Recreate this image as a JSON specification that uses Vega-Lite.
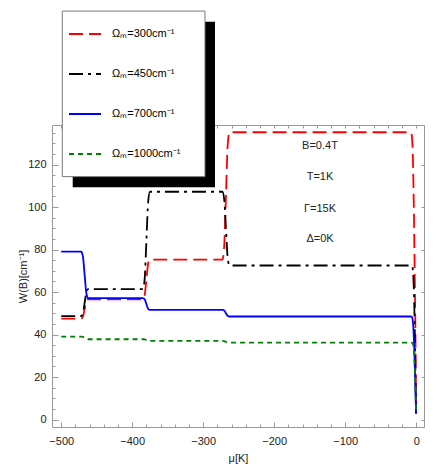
{
  "$schema": "https://vega.github.io/schema/vega-lite/v6.json",
  "autosize": "none",
  "width": 372,
  "height": 302,
  "padding": {"left": 52, "top": 125, "right": 12, "bottom": 44},
  "background": "white",
  "config": {
    "view": {"stroke": null},
    "axis": {
      "grid": false,
      "domainColor": "#999999",
      "tickColor": "#999999",
      "labelFont": "Liberation Sans",
      "labelFontSize": 11,
      "labelColor": "#222222",
      "titleFont": "Liberation Sans",
      "titleFontSize": 11,
      "titleFontWeight": "normal",
      "titleColor": "#222222",
      "zindex": 0
    }
  },
  "data": {
    "values": [
      {"Omega": 300, "mu": -500, "W": 47.5}, {"Omega": 300, "mu": -472, "W": 47.5}, {"Omega": 300, "mu": -469.5, "W": 48.4}, {"Omega": 300, "mu": -467, "W": 52.0}, {"Omega": 300, "mu": -464.5, "W": 55.7}, {"Omega": 300, "mu": -462, "W": 56.6},
      {"Omega": 300, "mu": -385, "W": 56.6}, {"Omega": 300, "mu": -382.5, "W": 58.5}, {"Omega": 300, "mu": -380, "W": 66.0}, {"Omega": 300, "mu": -377.5, "W": 73.4}, {"Omega": 300, "mu": -375, "W": 75.3},
      {"Omega": 300, "mu": -273, "W": 75.3}, {"Omega": 300, "mu": -270.5, "W": 81.3}, {"Omega": 300, "mu": -268, "W": 105.2}, {"Omega": 300, "mu": -265.5, "W": 129.2}, {"Omega": 300, "mu": -263, "W": 135.2},
      {"Omega": 300, "mu": -9, "W": 135.2}, {"Omega": 300, "mu": -7, "W": 134.9}, {"Omega": 300, "mu": -6, "W": 133}, {"Omega": 300, "mu": -5, "W": 127}, {"Omega": 300, "mu": -4, "W": 113}, {"Omega": 300, "mu": -3, "W": 92}, {"Omega": 300, "mu": -2, "W": 66}, {"Omega": 300, "mu": -1, "W": 38}, {"Omega": 300, "mu": -0.2, "W": 2.8},

      {"Omega": 450, "mu": -500, "W": 48.7}, {"Omega": 450, "mu": -472, "W": 48.7}, {"Omega": 450, "mu": -469.5, "W": 50.0}, {"Omega": 450, "mu": -467, "W": 55.0}, {"Omega": 450, "mu": -464.5, "W": 60.1}, {"Omega": 450, "mu": -462, "W": 61.4},
      {"Omega": 450, "mu": -385, "W": 61.4}, {"Omega": 450, "mu": -382.5, "W": 66.0}, {"Omega": 450, "mu": -380, "W": 84.3}, {"Omega": 450, "mu": -377.5, "W": 102.6}, {"Omega": 450, "mu": -375, "W": 107.2},
      {"Omega": 450, "mu": -273, "W": 107.2}, {"Omega": 450, "mu": -270.5, "W": 103.7}, {"Omega": 450, "mu": -268, "W": 89.9}, {"Omega": 450, "mu": -265.5, "W": 76.0}, {"Omega": 450, "mu": -263, "W": 72.5},
      {"Omega": 450, "mu": -8, "W": 72.5}, {"Omega": 450, "mu": -6, "W": 72.3}, {"Omega": 450, "mu": -5, "W": 71.3}, {"Omega": 450, "mu": -4, "W": 67}, {"Omega": 450, "mu": -3, "W": 58}, {"Omega": 450, "mu": -2, "W": 42}, {"Omega": 450, "mu": -1, "W": 22}, {"Omega": 450, "mu": -0.2, "W": 2.8},

      {"Omega": 700, "mu": -500, "W": 79.0}, {"Omega": 700, "mu": -472, "W": 79.0}, {"Omega": 700, "mu": -469.5, "W": 76.8}, {"Omega": 700, "mu": -467, "W": 68.0}, {"Omega": 700, "mu": -464.5, "W": 59.3}, {"Omega": 700, "mu": -462, "W": 57.1},
      {"Omega": 700, "mu": -385, "W": 57.1}, {"Omega": 700, "mu": -382.5, "W": 56.6}, {"Omega": 700, "mu": -380, "W": 54.3}, {"Omega": 700, "mu": -377.5, "W": 52.1}, {"Omega": 700, "mu": -375, "W": 51.6},
      {"Omega": 700, "mu": -273, "W": 51.6}, {"Omega": 700, "mu": -270.5, "W": 51.3}, {"Omega": 700, "mu": -268, "W": 50.0}, {"Omega": 700, "mu": -265.5, "W": 48.8}, {"Omega": 700, "mu": -263, "W": 48.5},
      {"Omega": 700, "mu": -8, "W": 48.5}, {"Omega": 700, "mu": -6, "W": 48.3}, {"Omega": 700, "mu": -5, "W": 47}, {"Omega": 700, "mu": -4, "W": 43}, {"Omega": 700, "mu": -3, "W": 36}, {"Omega": 700, "mu": -2, "W": 26}, {"Omega": 700, "mu": -1, "W": 14}, {"Omega": 700, "mu": -0.2, "W": 2.8},

      {"Omega": 1000, "mu": -500, "W": 39.0}, {"Omega": 1000, "mu": -472, "W": 39.0}, {"Omega": 1000, "mu": -469.5, "W": 38.9}, {"Omega": 1000, "mu": -467, "W": 38.4}, {"Omega": 1000, "mu": -464.5, "W": 37.9}, {"Omega": 1000, "mu": -462, "W": 37.8},
      {"Omega": 1000, "mu": -385, "W": 37.8}, {"Omega": 1000, "mu": -382.5, "W": 37.7}, {"Omega": 1000, "mu": -380, "W": 37.4}, {"Omega": 1000, "mu": -377.5, "W": 37.0}, {"Omega": 1000, "mu": -375, "W": 37.0},
      {"Omega": 1000, "mu": -273, "W": 37.0}, {"Omega": 1000, "mu": -270.5, "W": 36.9}, {"Omega": 1000, "mu": -268, "W": 36.6}, {"Omega": 1000, "mu": -265.5, "W": 36.3}, {"Omega": 1000, "mu": -263, "W": 36.2},
      {"Omega": 1000, "mu": -7, "W": 36.2}, {"Omega": 1000, "mu": -5, "W": 35.9}, {"Omega": 1000, "mu": -4, "W": 34.5}, {"Omega": 1000, "mu": -3, "W": 31}, {"Omega": 1000, "mu": -2, "W": 24}, {"Omega": 1000, "mu": -1, "W": 13}, {"Omega": 1000, "mu": -0.2, "W": 2.8}
    ]
  },
  "resolve": {
    "scale": {"x": "shared", "y": "shared"},
    "axis": {"x": "independent", "y": "independent"}
  },
  "layer": [
    {
      "mark": {"type": "line", "interpolate": "monotone", "strokeWidth": 1.8},
      "encoding": {
        "x": {
          "field": "mu", "type": "quantitative",
          "scale": {"domain": [-513, 11], "nice": false, "zero": false},
          "axis": {"orient": "bottom", "values": [-500, -400, -300, -200, -100, 0], "ticks": false, "domain": true, "labelPadding": 8, "labelFlush": false, "title": "μ[K]", "titlePadding": 6}
        },
        "y": {
          "field": "W", "type": "quantitative",
          "scale": {"domain": [-3.5, 138.6], "nice": false, "zero": false},
          "axis": {"orient": "left", "values": [0, 20, 40, 60, 80, 100, 120], "ticks": false, "domain": true, "labelPadding": 6, "labelFlush": false, "title": "W(B)[cm⁻¹]", "titlePadding": -1}
        },
        "color": {
          "field": "Omega", "type": "nominal",
          "scale": {"domain": [300, 450, 700, 1000], "range": ["#ff0000", "#000000", "#0000ff", "#008000"]},
          "legend": {"orient": "none", "legendX": 16, "legendY": -108, "title": null, "padding": 0, "symbolType": "stroke", "symbolSize": 1024, "symbolStrokeWidth": 1.8, "labelOffset": 10, "labelFont": "Liberation Sans", "labelFontSize": 11, "labelColor": "#000000", "rowPadding": 18, "labelExpr": "'Ωₘ=' + datum.label + 'cm⁻¹'"}
        },
        "strokeDash": {
          "field": "Omega", "type": "nominal",
          "scale": {"domain": [300, 450, 700, 1000], "range": [[14, 6], [14, 5, 3, 5], [1, 0], [5, 4]]},
          "legend": {"orient": "none", "legendX": 16, "legendY": -108, "title": null, "padding": 0, "symbolType": "stroke", "symbolSize": 1024, "symbolStrokeWidth": 1.8, "labelOffset": 10, "labelFont": "Liberation Sans", "labelFontSize": 11, "labelColor": "#000000", "rowPadding": 18, "labelExpr": "'Ωₘ=' + datum.label + 'cm⁻¹'"}
        }
      }
    },
    {
      "mark": {"type": "point", "opacity": 0},
      "encoding": {
        "x": {"field": "mu", "type": "quantitative", "axis": {"orient": "bottom", "values": [-500, -400, -300, -200, -100, 0], "tickSize": -5, "labels": false, "domain": false, "title": null}},
        "y": {"field": "W", "type": "quantitative", "axis": {"orient": "left", "values": [0, 20, 40, 60, 80, 100, 120], "tickSize": -6, "labels": false, "domain": false, "title": null}}
      }
    },
    {
      "mark": {"type": "point", "opacity": 0},
      "encoding": {
        "x": {"field": "mu", "type": "quantitative", "axis": {"orient": "bottom", "values": [-500, -480, -460, -440, -420, -400, -380, -360, -340, -320, -300, -280, -260, -240, -220, -200, -180, -160, -140, -120, -100, -80, -60, -40, -20, 0], "tickSize": -3, "labels": false, "domain": false, "title": null}},
        "y": {"field": "W", "type": "quantitative", "axis": {"orient": "left", "values": [0, 5, 10, 15, 20, 25, 30, 35, 40, 45, 50, 55, 60, 65, 70, 75, 80, 85, 90, 95, 100, 105, 110, 115, 120, 125, 130, 135], "tickSize": -3, "labels": false, "domain": false, "title": null}}
      }
    },
    {
      "mark": {"type": "point", "opacity": 0},
      "encoding": {
        "x": {"field": "mu", "type": "quantitative", "axis": {"orient": "top", "values": [-500, -480, -460, -440, -420, -400, -380, -360, -340, -320, -300, -280, -260, -240, -220, -200, -180, -160, -140, -120, -100, -80, -60, -40, -20, 0], "tickSize": -3, "labels": false, "domain": true, "title": null}},
        "y": {"field": "W", "type": "quantitative", "axis": {"orient": "right", "values": [0, 20, 40, 60, 80, 100, 120], "tickSize": -3, "labels": false, "domain": true, "title": null}}
      }
    },
    {
      "data": {"values": [{}]},
      "mark": {"type": "rect", "fill": "#000000"},
      "encoding": {
        "x": {"datum": -483.8, "type": "quantitative", "axis": null},
        "x2": {"datum": -283.4},
        "y": {"datum": 187.2, "type": "quantitative", "axis": null},
        "y2": {"datum": 109.3}
      }
    },
    {
      "data": {"values": [{}]},
      "mark": {"type": "rect", "fill": "#ffffff", "stroke": "#777777", "strokeWidth": 1},
      "encoding": {
        "x": {"datum": -498.5, "type": "quantitative", "axis": null},
        "x2": {"datum": -297.5},
        "y": {"datum": 192.2, "type": "quantitative", "axis": null},
        "y2": {"datum": 114.3}
      }
    },
    {
      "data": {
        "values": [
          {"mu": -135.5, "W": 128.7, "label": "B=0.4T"},
          {"mu": -135.5, "W": 114.0, "label": "T=1K"},
          {"mu": -135.5, "W": 99.0, "label": "Γ=15K"},
          {"mu": -135.5, "W": 84.8, "label": "Δ=0K"}
        ]
      },
      "mark": {"type": "text", "font": "Liberation Sans", "fontSize": 11, "align": "center", "baseline": "middle", "color": "#222222"},
      "encoding": {
        "x": {"field": "mu", "type": "quantitative", "axis": null},
        "y": {"field": "W", "type": "quantitative", "axis": null},
        "text": {"field": "label"}
      }
    }
  ]
}
